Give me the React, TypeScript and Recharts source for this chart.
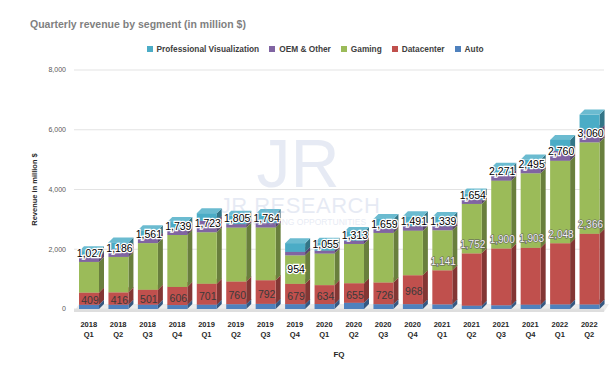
import { BarChart, Bar, XAxis, YAxis, CartesianGrid, Label } from 'recharts';

const quarters = [
  '2018 Q1', '2018 Q2', '2018 Q3', '2018 Q4',
  '2019 Q1', '2019 Q2', '2019 Q3', '2019 Q4',
  '2020 Q1', '2020 Q2', '2020 Q3', '2020 Q4',
  '2021 Q1', '2021 Q2', '2021 Q3', '2021 Q4',
  '2022 Q1', '2022 Q2',
];
const auto = [140, 142, 144, 132, 145, 161, 172, 163, 166, 209, 162, 163, 155, 111, 125, 145, 154, 152];
const datacenter = [409, 416, 501, 606, 701, 760, 792, 679, 634, 655, 726, 968, 1141, 1752, 1900, 1903, 2048, 2366];
const gaming = [1027, 1186, 1561, 1739, 1723, 1805, 1764, 954, 1055, 1313, 1659, 1491, 1339, 1654, 2271, 2495, 2760, 3060];
const oem = [156, 251, 191, 180, 387, 116, 148, 116, 99, 111, 143, 152, 138, 146, 194, 153, 327, 410];
const proviz = [205, 235, 239, 254, 251, 281, 305, 293, 266, 291, 324, 331, 307, 203, 236, 307, 372, 519];
const yTicks = [0, 2000, 4000, 6000, 8000];

const series = [
  { key: 'auto', name: 'Auto', color: '#4F81BD' },
  { key: 'datacenter', name: 'Datacenter', color: '#C0504D' },
  { key: 'gaming', name: 'Gaming', color: '#9BBB59' },
  { key: 'oem', name: 'OEM & Other', color: '#8064A2' },
  { key: 'proviz', name: 'Professional Visualization', color: '#4BACC6' },
];

const data = quarters.map((q, i) => ({
  q,
  auto: auto[i],
  datacenter: datacenter[i],
  gaming: gaming[i],
  oem: oem[i],
  proviz: proviz[i],
}));

const FONT = '"Liberation Sans", Arial, sans-serif';
const DEPTH = 5;
const fmt = (v: number) => v.toLocaleString('en-US');

function shade(hex: string, amt: number) {
  const n = parseInt(hex.slice(1), 16);
  const ch = [(n >> 16) & 255, (n >> 8) & 255, n & 255].map(c =>
    Math.round(amt < 0 ? c * (1 + amt) : c + (255 - c) * amt)
  );
  return `rgb(${ch[0]},${ch[1]},${ch[2]})`;
}

function Block({ x, y, width, height, fill }: any) {
  if (!height || height <= 0) return null;
  const d = DEPTH;
  return (
    <g>
      <polygon
        points={`${x + width},${y} ${x + width + d},${y - d} ${x + width + d},${y + height - d} ${x + width},${y + height}`}
        fill={shade(fill, -0.32)}
      />
      <polygon
        points={`${x},${y} ${x + d},${y - d} ${x + width + d},${y - d} ${x + width},${y}`}
        fill={shade(fill, 0.18)}
      />
      <rect x={x} y={y} width={width} height={height} fill={fill} />
    </g>
  );
}

// top series: draws its block, then every label of the column over it all
function TopBlock(props: any) {
  const { x, y, width, height, payload } = props;
  if (!height || height <= 0) return null;
  const k = height / payload.proviz;
  const base = y + height + (payload.auto + payload.datacenter + payload.gaming + payload.oem) * k;
  const cx = x + width / 2 + 1;
  const dcTop = base - (payload.auto + payload.datacenter) * k;
  const dcMid = base - (payload.auto + payload.datacenter / 2) * k;
  const gTop = base - (payload.auto + payload.datacenter + payload.gaming) * k;
  const gMid = base - (payload.auto + payload.datacenter + payload.gaming / 2) * k;
  const dcAbove = payload.datacenter > 1000;
  const gInside = payload.gaming < 1000;
  return (
    <g>
      <Block {...props} />
      {dcAbove ? (
        <text x={cx} y={dcTop - 9} dy="0.35em" textAnchor="middle" fontSize={10} fontFamily={FONT}
          fill="#f4f4f4" stroke="#5a5a5a" strokeWidth={1.1} paintOrder="stroke">
          {fmt(payload.datacenter)}
        </text>
      ) : (
        <text x={cx} y={dcMid + 2} dy="0.35em" textAnchor="middle" fontSize={10.5} fontFamily={FONT}
          fill="#3a3a3a">
          {fmt(payload.datacenter)}
        </text>
      )}
      <text x={cx} y={gInside ? gMid : gTop - 9} dy="0.35em" textAnchor="middle" fontSize={10.5}
        fontFamily={FONT} fill="#000" stroke="#fff" strokeWidth={2.4} paintOrder="stroke">
        {fmt(payload.gaming)}
      </text>
    </g>
  );
}

function QuarterTick({ x, y, payload }: any) {
  const [yr, qt] = String(payload.value).split(' ');
  return (
    <text x={x} y={y} textAnchor="middle" fontSize={7.5} fontWeight="bold" fontFamily={FONT} fill="#262626">
      <tspan x={x} dy={10}>{yr}</tspan>
      <tspan x={x} dy={9.5}>{qt}</tspan>
    </text>
  );
}

export default function App() {
  const legendItems = [...series].reverse();
  return (
    <div style={{ position: 'absolute', left: 0, top: 0, width: 614, height: 382, background: '#fff', fontFamily: FONT }}>
      <div style={{ position: 'absolute', left: 30, top: 18, fontSize: 10.5, fontWeight: 'bold', color: '#7f7f7f', whiteSpace: 'nowrap' }}>
        Quarterly revenue by segment (in million $)
      </div>
      <div style={{ position: 'absolute', left: 0, width: 630, top: 44, display: 'flex', justifyContent: 'center', gap: 10, fontSize: 8.3, fontWeight: 'bold', color: '#404040' }}>
        {legendItems.map(s => (
          <div key={s.key} style={{ display: 'flex', alignItems: 'center', gap: 4 }}>
            <span style={{ width: 6, height: 6, background: s.color, display: 'inline-block' }} />
            <span>{s.name}</span>
          </div>
        ))}
      </div>
      {/* 3D floor under the columns */}
      <svg width={614} height={382} style={{ position: 'absolute', left: 0, top: 0 }}>
        <polygon points="74,312 79,304 609,304 604,312" fill="#ececec" />
        <polygon points="74,309 604,309 604,312 74,312" fill="#dedede" />
      </svg>
      <BarChart width={614} height={382} data={data} margin={{ top: 70, right: 10, left: 20, bottom: 23 }} barSize={20}>
        <CartesianGrid vertical={false} stroke="#e3e3e3" />
        <XAxis
          dataKey="q"
          height={50}
          tickLine={false}
          axisLine={false}
          interval={0}
          tick={<QuarterTick />}
        >
          <Label value="FQ" position="insideBottom" offset={2} style={{ fontSize: 8, fontWeight: 'bold', fill: '#262626', fontFamily: FONT }} />
        </XAxis>
        <YAxis
          width={54}
          domain={[0, 8000]}
          ticks={yTicks}
          tickLine={false}
          axisLine={false}
          tickFormatter={(v: number) => fmt(v)}
          tick={{ fontSize: 7, fill: '#595959', fontFamily: FONT }}
        >
          <Label
            value="Revenue in million $"
            angle={-90}
            position="insideLeft"
            offset={14}
            style={{ textAnchor: 'middle', fontSize: 7.5, fontWeight: 'bold', fill: '#262626', fontFamily: FONT }}
          />
        </YAxis>
        {series.map(s =>
          s.key === 'proviz' ? (
            <Bar key={s.key} dataKey={s.key} name={s.name} stackId="a" fill={s.color} shape={<TopBlock />} isAnimationActive={false} />
          ) : (
            <Bar key={s.key} dataKey={s.key} name={s.name} stackId="a" fill={s.color} shape={<Block />} isAnimationActive={false} />
          )
        )}
      </BarChart>
      <svg width={614} height={382} style={{ position: 'absolute', left: 0, top: 0, pointerEvents: 'none' }}>
        <g fill="#9fb0d4" opacity={0.25} fontFamily={FONT}>
          <text x={298} y={187} textAnchor="middle" fontSize={68} fontWeight={300}>JR</text>
          <text x={300} y={213} textAnchor="middle" fontSize={22} letterSpacing={0.5}>JR RESEARCH</text>
          <text x={305} y={225} textAnchor="middle" fontSize={8.5}>UNLOCKING OPPORTUNITIES</text>
        </g>
      </svg>
    </div>
  );
}
